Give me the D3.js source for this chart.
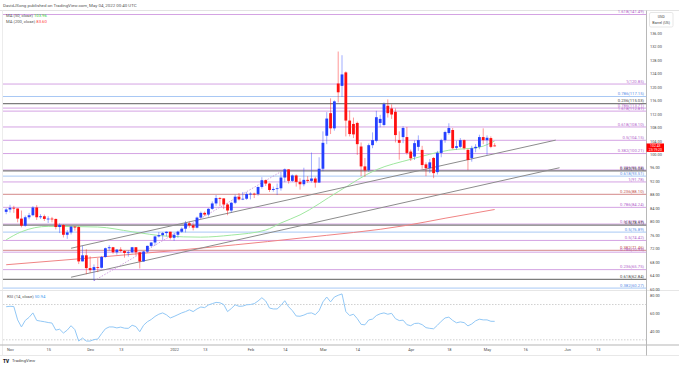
<!DOCTYPE html>
<html>
<head>
<meta charset="utf-8">
<script src="https://cdn.jsdelivr.net/npm/d3@7"></script>
<style>
  html, body { margin: 0; padding: 0; background: #fff; }
  svg { display: block; font-family: Roboto, "Liberation Sans", sans-serif; }
</style>
</head>
<body>
<svg></svg>
<script>
var width = 679;
var height = 368;

// trading days = weekdays minus the exchange holidays
var firstDay = "2021-10-29";
var lastDay = "2022-06-30";
var holidays = ["2021-11-25", "2021-12-24", "2022-01-17", "2022-02-21", "2022-04-15", "2022-05-30"];

// daily candles from Oct 29, [open, high, low, close]
var ohlc = [
  [82.9, 84.0, 82.2, 83.6],
  [83.6, 85.0, 82.7, 84.1], [84.1, 84.7, 82.6, 83.9], [83.9, 83.9, 79.8, 80.9], [80.9, 83.3, 78.3, 78.8], [78.8, 81.8, 78.5, 81.3],
  [81.3, 82.6, 80.7, 81.9], [81.9, 84.6, 81.6, 84.2], [84.2, 84.9, 80.5, 81.3], [81.3, 82.2, 80.8, 81.6], [81.6, 82.1, 80.2, 80.8],
  [80.8, 81.6, 79.6, 80.9], [80.9, 81.4, 79.8, 80.8], [80.8, 80.9, 77.7, 78.4], [78.4, 79.5, 76.6, 79.0], [79.0, 79.2, 75.3, 76.1],
  [76.1, 77.5, 74.9, 76.8], [76.8, 78.7, 76.2, 78.5], [78.5, 78.7, 77.3, 78.4], [78.4, 78.6, 67.4, 68.2],
  [68.2, 72.8, 68.2, 70.0], [70.0, 71.8, 64.4, 66.2], [66.2, 69.7, 64.8, 65.6], [65.6, 67.3, 62.4, 66.5], [66.5, 69.2, 65.0, 66.3],
  [66.3, 69.8, 66.1, 69.5], [69.5, 72.3, 69.3, 72.1], [72.1, 73.0, 71.4, 72.4], [72.4, 72.5, 70.5, 70.9], [70.9, 71.8, 70.2, 71.7],
  [71.7, 72.4, 70.9, 71.3], [71.3, 71.5, 69.3, 70.7], [70.7, 71.5, 69.6, 70.9], [70.9, 72.5, 70.6, 72.4], [72.4, 72.4, 69.9, 70.9],
  [70.9, 70.9, 66.1, 68.2], [68.2, 71.3, 68.1, 71.1], [71.1, 72.9, 70.7, 72.8], [72.8, 73.9, 72.4, 73.8],
  [73.8, 75.8, 72.9, 75.6], [75.6, 76.9, 75.3, 76.0], [76.0, 76.9, 74.6, 76.6], [76.6, 77.1, 75.6, 77.0], [77.0, 77.0, 74.7, 75.2],
  [75.2, 76.6, 74.3, 76.1], [76.1, 77.3, 75.2, 77.0], [77.0, 78.3, 76.7, 77.9], [77.9, 80.2, 76.8, 79.5], [79.5, 80.0, 78.2, 78.9],
  [78.9, 79.4, 77.4, 78.2], [78.2, 81.5, 78.0, 81.2], [81.2, 83.0, 81.0, 82.6], [82.6, 83.0, 81.6, 82.1], [82.1, 84.0, 81.5, 83.8],
  [83.8, 86.0, 83.5, 85.4], [85.4, 87.9, 84.7, 87.0], [87.0, 87.3, 84.6, 86.9], [86.9, 86.9, 83.7, 85.1],
  [85.1, 85.5, 81.9, 83.3], [83.3, 85.9, 82.7, 85.6], [85.6, 88.0, 85.2, 87.4], [87.4, 88.5, 86.3, 86.6], [86.6, 88.8, 86.4, 86.8],
  [86.8, 88.8, 86.5, 88.2], [88.2, 88.7, 86.6, 88.3], [88.3, 88.6, 87.0, 88.2], [88.2, 90.4, 87.7, 90.3], [90.3, 93.2, 89.8, 92.3],
  [92.3, 92.5, 90.6, 91.3], [91.3, 91.5, 88.8, 89.4], [89.4, 90.4, 88.9, 89.7], [89.7, 91.3, 87.9, 89.9], [89.9, 94.7, 89.2, 93.1],
  [93.1, 95.8, 91.7, 95.5], [95.5, 95.6, 91.3, 92.1], [92.1, 94.0, 91.8, 93.7], [93.7, 94.0, 90.4, 91.8], [91.8, 92.9, 89.5, 91.1],
  [91.1, 96.0, 90.5, 92.4], [92.4, 93.5, 91.5, 92.1], [92.1, 100.5, 91.6, 92.8], [92.8, 93.3, 90.1, 91.6],
  [91.6, 99.1, 91.5, 95.7], [95.7, 106.8, 95.0, 103.4], [105.5, 112.5, 103.0, 110.6], [112.2, 116.6, 106.0, 107.7], [107.7, 116.0, 107.0, 115.7],
  [121.0, 130.5, 115.4, 118.4], [120.3, 129.4, 117.0, 123.7], [124.3, 124.6, 105.3, 110.0], [110.0, 113.0, 105.3, 106.0], [109.0, 110.9, 104.8, 105.9],
  [109.3, 109.7, 99.8, 103.0], [102.3, 103.5, 93.5, 96.4], [96.4, 98.9, 93.3, 95.2], [95.3, 103.2, 94.8, 102.7], [102.7, 106.5, 101.8, 104.2],
  [104.0, 112.9, 103.5, 111.0], [109.3, 111.7, 108.0, 110.5], [108.7, 115.4, 108.3, 114.9], [114.4, 116.3, 110.9, 112.2], [113.6, 114.8, 110.5, 111.8],
  [112.6, 113.6, 103.5, 105.7], [104.2, 106.8, 98.4, 103.4], [105.1, 108.3, 103.3, 107.8], [105.1, 108.1, 99.9, 100.4], [100.8, 101.4, 98.0, 98.8],
  [99.3, 104.1, 98.3, 103.3], [102.2, 105.6, 101.0, 104.2], [101.3, 102.5, 95.7, 96.8], [97.0, 97.6, 93.5, 95.9], [95.9, 98.6, 94.4, 97.6],
  [98.9, 99.2, 92.9, 94.4], [94.7, 101.0, 94.0, 100.4], [100.4, 104.6, 99.1, 104.2], [104.2, 107.0, 103.4, 106.6],
  [106.3, 109.2, 105.8, 107.8], [107.2, 107.8, 101.5, 101.8], [101.9, 104.0, 101.3, 102.4], [102.2, 104.8, 101.8, 104.2], [104.2, 104.4, 101.4, 101.8],
  [101.3, 101.6, 95.3, 98.3], [98.9, 102.5, 97.8, 101.8], [101.8, 103.0, 100.6, 102.2], [102.2, 105.8, 101.5, 105.1], [105.1, 107.7, 103.0, 104.2],
  [104.2, 105.6, 99.8, 104.9], [104.8, 105.3, 101.8, 102.2], [102.6, 103.3, 102.3, 102.43]
];

// RSI (14, close), one value per candle
var rsi = [
  67.5,
  68, 67.7, 52.6, 44.6, 52, 55.5, 60.5, 52, 51.2, 50.5,
  49.6, 49, 41, 42, 37.7, 41, 46, 41.5, 28.6,
  32, 28.6, 28.6, 30.3, 30.8, 37, 42.5, 44.6, 44.6, 43.5,
  44.4, 43.2, 43, 46.5, 45, 39.2, 46.5, 50.5, 53,
  56.5, 59, 60.5, 58.3, 54.8, 56.5, 58.5, 60.5, 62, 64,
  62, 65, 67.2, 66.5, 69.5, 71, 72.4, 72, 70,
  62, 65.5, 69.7, 68, 68.2, 69.7, 70, 71, 74, 77.7,
  74, 66, 65, 65, 69, 74.3, 67.5, 63, 57, 56.7,
  58, 60, 60.5, 58.5, 63, 73, 78.5, 73, 78.5,
  80.5, 82, 62, 57.5, 59, 54, 47.5, 47, 52.5, 53.5,
  57.5, 59.5, 60.5, 59, 60, 54, 51.8, 52.3, 47.2, 46,
  48.5, 48.8, 47.2, 43.8, 43, 42.5, 46.5, 51, 54.8,
  55.7, 52, 49.3, 50.3, 49.5, 45.8, 48, 51.5, 53.4, 52.6,
  52.6, 51, 50.94
];

var ma50Dates = ["2021-10-29", "2021-11-04", "2021-11-15", "2021-12-03", "2021-12-16", "2021-12-30", "2022-01-12", "2022-01-25",
  "2022-02-07", "2022-02-11", "2022-02-18", "2022-03-07", "2022-03-21", "2022-04-01", "2022-04-18", "2022-04-28", "2022-05-04"];
var ma50Values = [74.6, 77.0, 78.6, 78.4, 77.0, 75.7, 75.4, 76.0, 77.5, 79.6, 82.0, 88.9, 95.4, 98.5, 101.2, 102.1, 103.96];

var ma200Dates = ["2021-10-29", "2021-12-31", "2022-02-18", "2022-03-31", "2022-04-14", "2022-05-04"];
var ma200Values = [67.2, 71.3, 75.1, 78.9, 81.0, 83.6];

// fibonacci levels drawn by the author, grouped by tool
var fibRatios = ["1.618", "1", "0.786", "0.236", "0.786", "1.618", "0.618", "0.5", "0.382", "0.236", "0.382", "0.618",
  "1", "0.236", "0.786", "0.618", "0.5", "0.5", "0.5", "0.382", "0.786", "0.236", "0.618", "0.382"];
var fibPrices = [141.49, 120.85, 117.15, 115.03, 113.71, 112.81, 108.10, 104.15, 100.21, 95.33, 95.08, 93.51,
  91.78, 88.10, 84.24, 79.28, 78.97, 76.89, 74.42, 71.46, 70.93, 65.75, 62.84, 60.27];
var fibTools = ["p", "p", "b", "g", "p", "p", "p", "p", "p", "p", "g", "b",
  "p", "r", "p", "p", "g", "b", "p", "r", "p", "p", "g", "b"];

// channel lines and the swing line of the fib tool
var channelDates = [["2021-11-23", "2022-05-26"], ["2021-11-23", "2022-05-27"]];
var channelPrices = [[72.1, 104.2], [63.5, 96.0]];
var swingDates = ["2021-12-02", "2022-02-14"];
var swingPrices = [62.43, 95.5];

var dateTicks = ["2021-11-01", "2021-11-15", "2021-12-01", "2021-12-13", "2022-01-03", "2022-01-13", "2022-02-01", "2022-02-14",
  "2022-03-01", "2022-03-14", "2022-04-01", "2022-04-18", "2022-05-02", "2022-05-16", "2022-06-01", "2022-06-13"];
var dateTickLabels = ["Nov", "15", "Dec", "13", "2022", "13", "Feb", "14", "Mar", "14", "Apr", "18", "May", "16", "Jun", "13"];
var priceTicks = d3.range(60, 137, 4);
var rsiTicks = [80, 60, 40];
var rsiBands = [70, 30];

var lastPrice = "102.43";
var countdown = "23:19:20";

// ---- build the trading day list
var fmt = d3.utcFormat("%Y-%m-%d");
var days = [];
d3.utcDay.range(new Date(firstDay + "T00:00:00Z"), d3.utcDay.offset(new Date(lastDay + "T00:00:00Z"), 1)).forEach(function(d) {
  var wd = d.getUTCDay();
  if (wd === 0 || wd === 6) return;
  if (holidays.indexOf(fmt(d)) >= 0) return;
  days.push(fmt(d));
});
function dayIndex(s) { return days.indexOf(s); }

var svg = d3.select("svg");
svg.attr("width", width).attr("height", height);

var x = d3.scaleLinear().domain([1, 155]).range([10, 597.7]);
var y = d3.scaleLinear().domain([60, 136]).range([289, 33]);
var yRsi = d3.scaleLinear().domain([40, 80]).range([331, 295.7]);

var axisX = 646.5;
var fontSize = 4.2;

svg.append("rect").attr("width", width).attr("height", height).attr("fill", "#fff");

svg.append("defs").append("clipPath").attr("id", "mainClip")
  .append("rect").attr("x", 3).attr("y", 10.5).attr("width", axisX - 3).attr("height", 279.5);

// frame
var frame = svg.append("g").attr("fill", "none");
frame.append("line").attr("x1", 0).attr("x2", width).attr("y1", 10.5).attr("y2", 10.5).attr("stroke", "#e3e3e3");
frame.append("line").attr("x1", 2.5).attr("x2", 2.5).attr("y1", 10.5).attr("y2", 355.5).attr("stroke", "#ececec");
frame.append("line").attr("x1", 0).attr("x2", width).attr("y1", 290.5).attr("y2", 290.5).attr("stroke", "#e6e6e6");
frame.append("line").attr("x1", 0).attr("x2", width).attr("y1", 345).attr("y2", 345).attr("stroke", "#b5b5b5").attr("stroke-width", 1.2);
frame.append("line").attr("x1", 0).attr("x2", width).attr("y1", 355.5).attr("y2", 355.5).attr("stroke", "#e8e8e8");
frame.append("line").attr("x1", axisX).attr("x2", axisX).attr("y1", 10.5).attr("y2", 355.5).attr("stroke", "#b8b8b8");

var main = svg.append("g").attr("clip-path", "url(#mainClip)");

// fib level lines
var fibLine = { p: "#d4a3e3", b: "#a8c8f4", g: "#7d7d7d", r: "#dca0a0" };
var fibText = { p: "#b25fcb", b: "#5a8de6", g: "#444", r: "#c0504d" };
var fibWidth = { p: 1, b: 1, g: 1.2, r: 1.1 };
var fibs = d3.range(fibPrices.length).map(function(i) {
  return { ratio: fibRatios[i], price: fibPrices[i], tool: fibTools[i] };
});
main.selectAll("line.fib").data(fibs).enter().append("line")
  .attr("class", "fib")
  .attr("x1", 3).attr("x2", axisX)
  .attr("y1", function(d) { return y(d.price); })
  .attr("y2", function(d) { return y(d.price); })
  .attr("stroke", function(d) { return fibLine[d.tool]; })
  .attr("stroke-width", function(d) { return fibWidth[d.tool]; });

// moving averages
var maLine = d3.line().curve(d3.curveMonotoneX)
  .x(function(d) { return x(dayIndex(d[0])); })
  .y(function(d) { return y(d[1]); });
main.append("path").datum(d3.zip(ma200Dates, ma200Values)).attr("d", maLine)
  .attr("fill", "none").attr("stroke", "#f08484").attr("stroke-width", 1);
main.append("path").datum(d3.zip(ma50Dates, ma50Values)).attr("d", maLine)
  .attr("fill", "none").attr("stroke", "#9fe79f").attr("stroke-width", 1);

// channel
var trend = d3.range(channelDates.length).map(function(i) {
  return d3.zip(channelDates[i], channelPrices[i]);
});
main.selectAll("path.trend").data(trend).enter().append("path")
  .attr("class", "trend")
  .attr("d", d3.line().x(function(d) { return x(dayIndex(d[0])); }).y(function(d) { return y(d[1]); }))
  .attr("fill", "none").attr("stroke", "#8c8c8c").attr("stroke-width", 1);

main.append("path").datum(d3.zip(swingDates, swingPrices))
  .attr("d", d3.line().x(function(d) { return x(dayIndex(d[0])); }).y(function(d) { return y(d[1]); }))
  .attr("fill", "none").attr("stroke", "#c58ad8").attr("stroke-width", 0.8).attr("stroke-dasharray", "1.5,1.5");

// candles
var upColor = "#2540ff";
var downColor = "#ff1010";
function candleColor(d) { return d[3] >= d[0] ? upColor : downColor; }
var candle = main.selectAll("g.candle").data(ohlc).enter().append("g").attr("class", "candle");
candle.append("line")
  .attr("x1", function(d, i) { return x(i); })
  .attr("x2", function(d, i) { return x(i); })
  .attr("y1", function(d) { return y(d[1]); })
  .attr("y2", function(d) { return y(d[2]); })
  .attr("stroke", candleColor).attr("stroke-width", 0.8).attr("stroke-opacity", 0.55);
candle.append("rect")
  .attr("x", function(d, i) { return x(i) - 1.4; })
  .attr("width", 2.8)
  .attr("y", function(d) { return y(Math.max(d[0], d[3])); })
  .attr("height", function(d) { return Math.max(0.8, Math.abs(y(d[0]) - y(d[3]))); })
  .attr("fill", candleColor);

// fib labels
svg.selectAll("text.fib").data(fibs).enter().append("text")
  .attr("class", "fib")
  .attr("x", axisX - 2.5)
  .attr("y", function(d) { return y(d.price) - 1.2; })
  .attr("text-anchor", "end")
  .attr("font-size", fontSize)
  .attr("fill", function(d) { return fibText[d.tool]; })
  .text(function(d) { return d.ratio + "(" + d.price.toFixed(2) + ")"; });

// RSI pane
var rsiG = svg.append("g");
rsiG.selectAll("line.band").data(rsiBands).enter().append("line")
  .attr("x1", 3).attr("x2", axisX)
  .attr("y1", function(d) { return yRsi(d); })
  .attr("y2", function(d) { return yRsi(d); })
  .attr("stroke", "#c4c4c4").attr("stroke-width", 0.8).attr("stroke-dasharray", "1.5,1.5");
rsiG.append("path").datum(rsi)
  .attr("d", d3.line().x(function(d, i) { return x(i); }).y(function(d) { return yRsi(d); }))
  .attr("fill", "none").attr("stroke", "#92c8f6").attr("stroke-width", 1);

// price axis
var yAxis = svg.append("g").attr("transform", "translate(" + axisX + ",0)")
  .call(d3.axisRight(y).tickValues(priceTicks).tickFormat(d3.format(".2f")).tickSize(0).tickPadding(3.5));
var rAxis = svg.append("g").attr("transform", "translate(" + axisX + ",0)")
  .call(d3.axisRight(yRsi).tickValues(rsiTicks).tickFormat(d3.format(".2f")).tickSize(0).tickPadding(3.5));
var xAxis = svg.append("g").attr("transform", "translate(0,345)")
  .call(d3.axisBottom(x).tickValues(dateTicks.map(dayIndex))
    .tickFormat(function(d, i) { return dateTickLabels[i]; }).tickSize(0).tickPadding(3.4));
[yAxis, rAxis, xAxis].forEach(function(g) {
  g.select(".domain").remove();
  g.attr("font-family", null).attr("font-size", null);
  g.selectAll("text").attr("font-size", 3.9).attr("fill", "#4a4a4a");
});

// last price tag
var tagY = y(+lastPrice);
var tag = svg.append("g");
tag.append("rect").attr("x", axisX).attr("y", tagY - 2.6).attr("width", 17.5).attr("height", 8.4).attr("fill", "#ff0000");
tag.append("text").attr("x", axisX + 8.8).attr("y", tagY + 1.1).attr("text-anchor", "middle")
  .attr("font-size", 3.4).attr("fill", "#fff").text(lastPrice);
tag.append("text").attr("x", axisX + 8.8).attr("y", tagY + 4.9).attr("text-anchor", "middle")
  .attr("font-size", 3.4).attr("fill", "#fff").text(countdown);

// currency box
var unit = svg.append("g");
unit.append("rect").attr("x", 649.5).attr("y", 12.5).attr("width", 23.5).attr("height", 14.5).attr("rx", 1.5)
  .attr("fill", "#fff").attr("stroke", "#d6d6d6").attr("stroke-width", 0.6);
unit.append("text").attr("x", 661.2).attr("y", 18.3).attr("text-anchor", "middle").attr("font-size", 3.7).attr("fill", "#444").text("USD");
unit.append("text").attr("x", 661.2).attr("y", 24.2).attr("text-anchor", "middle").attr("font-size", 3.7).attr("fill", "#444").text("Barrel (US)");

// header and legends
svg.append("text").attr("x", 3).attr("y", 7.2).attr("font-size", 4.4).attr("fill", "#555")
  .text("DavidJSong published on TradingView.com, May 04, 2022 00:40 UTC");

function legend(yPos, xPos, label, value, color) {
  var t = svg.append("text").attr("x", xPos).attr("y", yPos).attr("font-size", fontSize).attr("fill", "#555");
  t.append("tspan").text(label + " ");
  t.append("tspan").attr("fill", color).text(value);
}
legend(16.5, 6, "MA (50, close)", ma50Values[ma50Values.length - 1].toFixed(2), "#2fd12f");
legend(23.2, 6, "MA (200, close)", ma200Values[ma200Values.length - 1].toFixed(2), "#ff3b3b");
legend(298.2, 7, "RSI (14, close)", rsi[rsi.length - 1].toFixed(2), "#3d9bf0");

// logo
svg.append("text").attr("x", 3).attr("y", 362.6).attr("font-size", 4.6).attr("font-weight", 900).attr("fill", "#131722").text("TV");
svg.append("text").attr("x", 12).attr("y", 362.4).attr("font-size", 4.2).attr("fill", "#444").text("TradingView");
</script>
</body>
</html>
